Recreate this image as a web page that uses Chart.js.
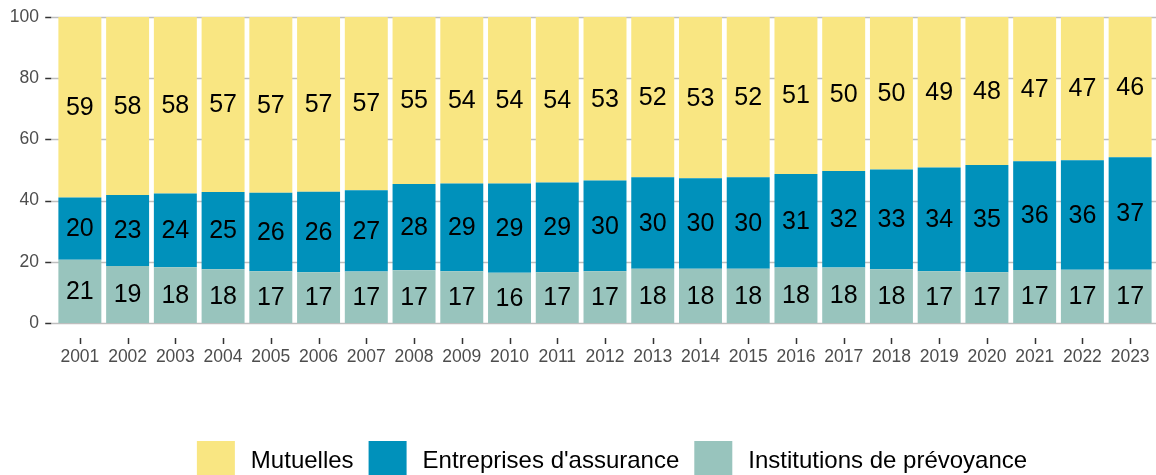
<!DOCTYPE html>
<html>
<head>
<meta charset="utf-8">
<script src="https://cdn.jsdelivr.net/npm/chart.js@4"></script>
<style>
  html, body { margin: 0; padding: 0; background: #fff; overflow: hidden; }
  #wrap { width: 1156px; height: 480px; }
</style>
</head>
<body>
<div id="wrap"><canvas id="chart"></canvas></div>
<script>
const years = ['2001','2002','2003','2004','2005','2006','2007','2008','2009','2010','2011','2012',
  '2013','2014','2015','2016','2017','2018','2019','2020','2021','2022','2023'];
const prevoyance = [20.7, 18.6, 18.2, 17.6, 16.9, 16.6, 16.8, 17.2, 16.9, 16.4, 16.6, 16.9,
  17.7, 17.7, 17.7, 18.1, 18.1, 17.6, 16.9, 16.6, 17.3, 17.4, 17.4];
const assurance = [20.3, 23.2, 24.1, 25.2, 25.7, 26.3, 26.6, 28.2, 28.7, 29.2, 29.3, 29.7,
  29.9, 29.6, 29.9, 30.6, 31.6, 32.6, 33.9, 35.0, 35.6, 35.8, 36.8];
const mutuelles = [59.0, 58.2, 57.7, 57.2, 57.4, 57.1, 56.6, 54.6, 54.4, 54.4, 54.1, 53.4,
  52.4, 52.7, 52.4, 51.3, 50.3, 49.8, 49.2, 48.4, 47.1, 46.8, 45.8];
const yTicks = [0, 20, 40, 60, 80, 100];

const FONT = '"Liberation Sans", Arial, sans-serif';

// ggplot style grid: panel a bit wider than the bars, ticks on the left
const gridPlugin = {
  id: 'gridPlugin',
  beforeDatasetsDraw(chart) {
    const { ctx, chartArea, scales } = chart;
    const step = (chartArea.right - chartArea.left) / years.length;
    const left = chartArea.left - 0.1 * step;
    const right = chartArea.right + 0.1 * step;
    ctx.save();
    yTicks.forEach(v => {
      const y = Math.round(scales.y.getPixelForValue(v)) + 0.5;
      ctx.strokeStyle = '#bebebe';
      ctx.lineWidth = 1.5;
      ctx.beginPath(); ctx.moveTo(left, y); ctx.lineTo(right, y); ctx.stroke();
      ctx.strokeStyle = '#333333';
      ctx.beginPath(); ctx.moveTo(left - 6, y); ctx.lineTo(left, y); ctx.stroke();
    });
    // x tick marks, drawn a bit under the axis
    const y0 = scales.y.getPixelForValue(0);
    ctx.strokeStyle = '#333333';
    ctx.lineWidth = 1.5;
    years.forEach((yr, i) => {
      const x = Math.round(scales.x.getPixelForTick(i)) + 0.5;
      ctx.beginPath(); ctx.moveTo(x, y0 + 15); ctx.lineTo(x, y0 + 21); ctx.stroke();
    });
    ctx.restore();
  }
};

const labelPlugin = {
  id: 'labelPlugin',
  afterDatasetsDraw(chart) {
    const { ctx } = chart;
    ctx.save();
    ctx.font = '25px ' + FONT;
    ctx.fillStyle = '#000';
    ctx.textAlign = 'center';
    ctx.textBaseline = 'middle';
    chart.data.datasets.forEach((ds, i) => {
      chart.getDatasetMeta(i).data.forEach((bar, j) => {
        ctx.fillText(String(Math.round(ds.data[j])), bar.x, (bar.y + bar.base) / 2 + 1);
      });
    });
    ctx.restore();
  }
};

const legendPlugin = {
  id: 'legendPlugin',
  afterDraw(chart) {
    const { ctx, chartArea } = chart;
    const items = [chart.data.datasets[2], chart.data.datasets[1], chart.data.datasets[0]];
    const box = 38, gapText = 16, gapItem = 15;
    ctx.save();
    ctx.font = '24px ' + FONT;
    let total = 0;
    items.forEach((it, i) => {
      total += box + gapText + ctx.measureText(it.label).width + (i < items.length - 1 ? gapItem : 0);
    });
    let x = 612 - total / 2;
    const top = chartArea.bottom + 118;
    ctx.textBaseline = 'middle';
    ctx.textAlign = 'left';
    items.forEach(it => {
      ctx.fillStyle = it.backgroundColor;
      ctx.fillRect(x, top, box, box);
      x += box + gapText;
      ctx.fillStyle = '#000';
      ctx.fillText(it.label, x, top + 20);
      x += ctx.measureText(it.label).width + gapItem;
    });
    ctx.restore();
  }
};

new Chart(document.getElementById('chart'), {
  type: 'bar',
  data: {
    labels: years,
    datasets: [
      { label: 'Institutions de prévoyance', data: prevoyance, backgroundColor: '#98c4bd' },
      { label: "Entreprises d'assurance", data: assurance, backgroundColor: '#0091bb' },
      { label: 'Mutuelles', data: mutuelles, backgroundColor: '#f9e682' }
    ]
  },
  options: {
    responsive: true,
    maintainAspectRatio: false,
    animation: false,
    layout: { padding: { top: 17, right: 2, bottom: 112, left: 0 } },
    datasets: { bar: { barPercentage: 0.9, categoryPercentage: 1.0 } },
    plugins: { legend: { display: false }, tooltip: { enabled: false } },
    scales: {
      x: {
        stacked: true,
        grid: { display: false, drawTicks: true, tickLength: 24 },
        border: { display: false },
        ticks: { color: '#4d4d4d', font: { family: FONT, size: 17.5 }, padding: 0, maxRotation: 0, autoSkip: false }
      },
      y: {
        stacked: true,
        min: 0,
        max: 100,
        afterFit(scale) { scale.width = 56; },
        afterBuildTicks(scale) { scale.ticks = yTicks.map(v => ({ value: v })); },
        grid: { display: false, drawTicks: true, tickLength: 17 },
        border: { display: false },
        ticks: { color: '#4d4d4d', font: { family: FONT, size: 17.5 }, padding: 0 }
      }
    }
  },
  plugins: [gridPlugin, labelPlugin, legendPlugin]
});
</script>
</body>
</html>
